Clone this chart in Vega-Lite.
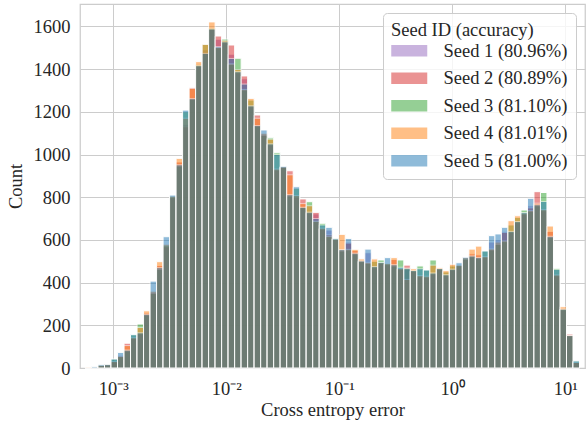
{
  "$schema": "https://vega.github.io/schema/vega-lite/v6.json",
  "width": 505,
  "height": 364,
  "autosize": {"type": "none"},
  "padding": {"left": 80, "top": 4, "right": 3, "bottom": 58},
  "background": "white",
  "config": {
    "font": "Liberation Serif",
    "view": {"stroke": "#cccccc", "strokeWidth": 1.25},
    "axis": {
      "labelFont": "Liberation Serif",
      "titleFont": "Liberation Serif",
      "labelFontSize": 18.5,
      "titleFontSize": 18.5,
      "labelColor": "#262626",
      "titleColor": "#262626",
      "titleFontWeight": "normal",
      "ticks": false,
      "domain": false,
      "gridColor": "#cccccc",
      "gridWidth": 1
    },
    "legend": {
      "labelFont": "Liberation Serif",
      "titleFont": "Liberation Serif"
    }
  },
  "data": {
    "values": [
      {"lo": 0.00056182, "hi": 0.00064147, "s1": 0, "s2": 2, "s3": 0, "s4": 4, "s5": 0},
      {"lo": 0.00064147, "hi": 0.00073241, "s1": 3, "s2": 3, "s3": 3, "s4": 3, "s5": 6},
      {"lo": 0.00073241, "hi": 0.00083625, "s1": 13, "s2": 13, "s3": 13, "s4": 13, "s5": 15},
      {"lo": 0.00083625, "hi": 0.0009548, "s1": 15, "s2": 16, "s3": 15, "s4": 15, "s5": 17},
      {"lo": 0.0009548, "hi": 0.0010902, "s1": 30, "s2": 30, "s3": 42, "s4": 30, "s5": 42},
      {"lo": 0.0010902, "hi": 0.0012447, "s1": 60, "s2": 58, "s3": 53, "s4": 55, "s5": 73},
      {"lo": 0.0012447, "hi": 0.0014212, "s1": 82, "s2": 116, "s3": 80, "s4": 105, "s5": 84},
      {"lo": 0.0014212, "hi": 0.0016227, "s1": 140, "s2": 139, "s3": 156, "s4": 142, "s5": 156},
      {"lo": 0.0016227, "hi": 0.0018528, "s1": 162, "s2": 160, "s3": 206, "s4": 190, "s5": 165},
      {"lo": 0.0018528, "hi": 0.0021154, "s1": 250, "s2": 258, "s3": 248, "s4": 268, "s5": 252},
      {"lo": 0.0021154, "hi": 0.0024153, "s1": 355, "s2": 352, "s3": 350, "s4": 360, "s5": 407},
      {"lo": 0.0024153, "hi": 0.0027578, "s1": 465, "s2": 480, "s3": 462, "s4": 498, "s5": 470},
      {"lo": 0.0027578, "hi": 0.0031487, "s1": 570, "s2": 568, "s3": 575, "s4": 580, "s5": 615},
      {"lo": 0.0031487, "hi": 0.0035951, "s1": 800, "s2": 798, "s3": 802, "s4": 805, "s5": 810},
      {"lo": 0.0035951, "hi": 0.0041048, "s1": 948, "s2": 965, "s3": 946, "s4": 982, "s5": 952},
      {"lo": 0.0041048, "hi": 0.0046868, "s1": 1140, "s2": 1130, "s3": 1200, "s4": 1170, "s5": 1208},
      {"lo": 0.0046868, "hi": 0.0053512, "s1": 1265, "s2": 1313, "s3": 1258, "s4": 1310, "s5": 1262},
      {"lo": 0.0053512, "hi": 0.0061099, "s1": 1418, "s2": 1415, "s3": 1420, "s4": 1435, "s5": 1416},
      {"lo": 0.0061099, "hi": 0.0069761, "s1": 1490, "s2": 1480, "s3": 1516, "s4": 1516, "s5": 1474},
      {"lo": 0.0069761, "hi": 0.007965, "s1": 1590, "s2": 1586, "s3": 1592, "s4": 1621, "s5": 1588},
      {"lo": 0.007965, "hi": 0.0090942, "s1": 1540, "s2": 1555, "s3": 1500, "s4": 1502, "s5": 1505},
      {"lo": 0.0090942, "hi": 0.010384, "s1": 1526, "s2": 1524, "s3": 1541, "s4": 1535, "s5": 1528},
      {"lo": 0.010384, "hi": 0.011856, "s1": 1470, "s2": 1513, "s3": 1422, "s4": 1425, "s5": 1450},
      {"lo": 0.011856, "hi": 0.013536, "s1": 1385, "s2": 1383, "s3": 1451, "s4": 1398, "s5": 1388},
      {"lo": 0.013536, "hi": 0.015455, "s1": 1355, "s2": 1368, "s3": 1302, "s4": 1305, "s5": 1330},
      {"lo": 0.015455, "hi": 0.017646, "s1": 1230, "s2": 1224, "s3": 1255, "s4": 1263, "s5": 1228},
      {"lo": 0.017646, "hi": 0.020148, "s1": 1140, "s2": 1185, "s3": 1133, "s4": 1170, "s5": 1136},
      {"lo": 0.020148, "hi": 0.023004, "s1": 1095, "s2": 1092, "s3": 1090, "s4": 1100, "s5": 1115},
      {"lo": 0.023004, "hi": 0.026265, "s1": 1048, "s2": 1045, "s3": 1078, "s4": 1072, "s5": 1050},
      {"lo": 0.026265, "hi": 0.029992, "s1": 930, "s2": 927, "s3": 1008, "s4": 932, "s5": 1000},
      {"lo": 0.029992, "hi": 0.034244, "s1": 940, "s2": 941, "s3": 940, "s4": 942, "s5": 945},
      {"lo": 0.034244, "hi": 0.039099, "s1": 810, "s2": 924, "s3": 806, "s4": 905, "s5": 812},
      {"lo": 0.039099, "hi": 0.044642, "s1": 805, "s2": 800, "s3": 842, "s4": 808, "s5": 849},
      {"lo": 0.044642, "hi": 0.050971, "s1": 755, "s2": 792, "s3": 751, "s4": 770, "s5": 753},
      {"lo": 0.050971, "hi": 0.058197, "s1": 728, "s2": 725, "s3": 779, "s4": 760, "s5": 730},
      {"lo": 0.058197, "hi": 0.066448, "s1": 722, "s2": 729, "s3": 686, "s4": 688, "s5": 700},
      {"lo": 0.066448, "hi": 0.075868, "s1": 652, "s2": 650, "s3": 678, "s4": 655, "s5": 670},
      {"lo": 0.075868, "hi": 0.086624, "s1": 646, "s2": 625, "s3": 615, "s4": 618, "s5": 659},
      {"lo": 0.086624, "hi": 0.098904, "s1": 603, "s2": 604, "s3": 607, "s4": 603, "s5": 605},
      {"lo": 0.098904, "hi": 0.11293, "s1": 552, "s2": 550, "s3": 548, "s4": 626, "s5": 555},
      {"lo": 0.11293, "hi": 0.12894, "s1": 590, "s2": 585, "s3": 553, "s4": 556, "s5": 607},
      {"lo": 0.12894, "hi": 0.14722, "s1": 536, "s2": 550, "s3": 534, "s4": 556, "s5": 538},
      {"lo": 0.14722, "hi": 0.1681, "s1": 500, "s2": 498, "s3": 499, "s4": 511, "s5": 502},
      {"lo": 0.1681, "hi": 0.19193, "s1": 540, "s2": 492, "s3": 490, "s4": 495, "s5": 557},
      {"lo": 0.19193, "hi": 0.21912, "s1": 473, "s2": 470, "s3": 500, "s4": 511, "s5": 475},
      {"lo": 0.21912, "hi": 0.25018, "s1": 492, "s2": 490, "s3": 506, "s4": 494, "s5": 495},
      {"lo": 0.25018, "hi": 0.28565, "s1": 486, "s2": 484, "s3": 488, "s4": 490, "s5": 517},
      {"lo": 0.28565, "hi": 0.32615, "s1": 480, "s2": 508, "s3": 478, "s4": 517, "s5": 484},
      {"lo": 0.32615, "hi": 0.37238, "s1": 464, "s2": 462, "s3": 506, "s4": 466, "s5": 472},
      {"lo": 0.37238, "hi": 0.42519, "s1": 418, "s2": 482, "s3": 468, "s4": 415, "s5": 465},
      {"lo": 0.42519, "hi": 0.48546, "s1": 454, "s2": 452, "s3": 456, "s4": 465, "s5": 457},
      {"lo": 0.48546, "hi": 0.55429, "s1": 430, "s2": 428, "s3": 478, "s4": 433, "s5": 465},
      {"lo": 0.55429, "hi": 0.63287, "s1": 427, "s2": 425, "s3": 459, "s4": 430, "s5": 459},
      {"lo": 0.63287, "hi": 0.72259, "s1": 442, "s2": 440, "s3": 506, "s4": 482, "s5": 445},
      {"lo": 0.72259, "hi": 0.825, "s1": 463, "s2": 462, "s3": 465, "s4": 470, "s5": 466},
      {"lo": 0.825, "hi": 0.94196, "s1": 435, "s2": 433, "s3": 450, "s4": 456, "s5": 437},
      {"lo": 0.94196, "hi": 1.0755, "s1": 461, "s2": 459, "s3": 478, "s4": 486, "s5": 463},
      {"lo": 1.0755, "hi": 1.228, "s1": 480, "s2": 478, "s3": 481, "s4": 482, "s5": 493},
      {"lo": 1.228, "hi": 1.4021, "s1": 510, "s2": 509, "s3": 511, "s4": 517, "s5": 519},
      {"lo": 1.4021, "hi": 1.6007, "s1": 523, "s2": 535, "s3": 521, "s4": 557, "s5": 525},
      {"lo": 1.6007, "hi": 1.8276, "s1": 516, "s2": 530, "s3": 514, "s4": 571, "s5": 518},
      {"lo": 1.8276, "hi": 2.0867, "s1": 520, "s2": 518, "s3": 548, "s4": 522, "s5": 548},
      {"lo": 2.0867, "hi": 2.3825, "s1": 590, "s2": 556, "s3": 553, "s4": 558, "s5": 620},
      {"lo": 2.3825, "hi": 2.7203, "s1": 600, "s2": 581, "s3": 579, "s4": 590, "s5": 628},
      {"lo": 2.7203, "hi": 3.1068, "s1": 640, "s2": 635, "s3": 592, "s4": 596, "s5": 659},
      {"lo": 3.1068, "hi": 3.5473, "s1": 638, "s2": 635, "s3": 670, "s4": 690, "s5": 640},
      {"lo": 3.5473, "hi": 4.0501, "s1": 683, "s2": 681, "s3": 705, "s4": 713, "s5": 686},
      {"lo": 4.0501, "hi": 4.6243, "s1": 724, "s2": 720, "s3": 740, "s4": 726, "s5": 728},
      {"lo": 4.6243, "hi": 5.2799, "s1": 760, "s2": 750, "s3": 734, "s4": 738, "s5": 795},
      {"lo": 5.2799, "hi": 6.0284, "s1": 762, "s2": 826, "s3": 760, "s4": 772, "s5": 765},
      {"lo": 6.0284, "hi": 6.883, "s1": 740, "s2": 737, "s3": 822, "s4": 742, "s5": 780},
      {"lo": 6.883, "hi": 7.8588, "s1": 615, "s2": 640, "s3": 612, "s4": 665, "s5": 617},
      {"lo": 7.8588, "hi": 8.973, "s1": 434, "s2": 432, "s3": 467, "s4": 436, "s5": 462},
      {"lo": 8.973, "hi": 10.245, "s1": 274, "s2": 272, "s3": 275, "s4": 287, "s5": 276},
      {"lo": 10.245, "hi": 11.698, "s1": 152, "s2": 159, "s3": 151, "s4": 153, "s5": 152},
      {"lo": 11.698, "hi": 13.356, "s1": 26, "s2": 26, "s3": 33, "s4": 26, "s5": 33}
    ]
  },
  "transform": [{"fold": ["s1", "s2", "s3", "s4", "s5"], "as": ["seed", "count"]}],
  "mark": {"type": "bar", "opacity": 0.5, "stroke": "white", "strokeWidth": 1},
  "encoding": {
    "x": {
      "field": "lo",
      "type": "quantitative",
      "scale": {"type": "log", "domain": [0.0005074, 14.94], "nice": false},
      "axis": {
        "values": [0.001, 0.01, 0.1, 1, 10],
        "labelExpr": "datum.value < 0.005 ? '10⁻³' : datum.value < 0.05 ? '10⁻²' : datum.value < 0.5 ? '10⁻¹' : datum.value < 5 ? '10⁰' : '10¹'",
        "labelPadding": 11,
        "title": "Cross entropy error",
        "titlePadding": 3
      }
    },
    "x2": {"field": "hi"},
    "y": {
      "field": "count",
      "type": "quantitative",
      "stack": null,
      "scale": {"domain": [0, 1705], "nice": false},
      "axis": {
        "values": [0, 200, 400, 600, 800, 1000, 1200, 1400, 1600],
        "format": "d",
        "labelPadding": 10,
        "title": "Count",
        "titlePadding": 8
      }
    },
    "y2": {"datum": 0},
    "color": {
      "field": "seed",
      "type": "nominal",
      "scale": {
        "domain": ["s1", "s2", "s3", "s4", "s5"],
        "range": ["#9467bd", "#d62728", "#2ca02c", "#ff7f0e", "#1f77b4"]
      },
      "legend": {
        "orient": "none",
        "legendX": 303,
        "legendY": 9,
        "title": "Seed ID (accuracy)",
        "labelExpr": "datum.label == 's1' ? 'Seed 1 (80.96%)' : datum.label == 's2' ? 'Seed 2 (80.89%)' : datum.label == 's3' ? 'Seed 3 (81.10%)' : datum.label == 's4' ? 'Seed 4 (81.01%)' : 'Seed 5 (81.00%)'",
        "titleFontSize": 18.5,
        "titleFontWeight": "normal",
        "titleColor": "#262626",
        "titlePadding": 2,
        "labelFontSize": 18.5,
        "labelColor": "#262626",
        "labelOffset": 34,
        "symbolType": "M-1,-0.65H3V0.65H-1Z",
        "symbolSize": 324,
        "symbolOpacity": 0.5,
        "symbolStrokeWidth": 0,
        "rowPadding": 8.5,
        "padding": 8,
        "fillColor": "rgba(255,255,255,0.8)",
        "strokeColor": "#cccccc",
        "cornerRadius": 4
      }
    }
  }
}
